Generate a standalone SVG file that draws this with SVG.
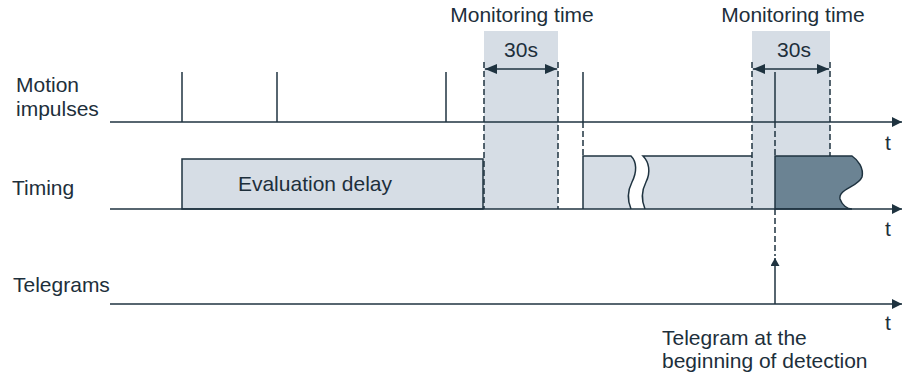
<svg xmlns="http://www.w3.org/2000/svg" width="902" height="382" viewBox="0 0 902 382">
<style>
  text { font-family: "Liberation Sans", Arial, sans-serif; font-size: 21px; fill: #1d2f3b; }
  .ln { stroke: #1f3340; stroke-width: 1.5; fill: none; }
  .dash { stroke: #1f3340; stroke-width: 1.5; fill: none; stroke-dasharray: 6 3; }
  .light { fill: #d6dde5; }
  .box { fill: #d6dde5; stroke: #1f3340; stroke-width: 1.5; }
  .dark { fill: #6b8393; stroke: #1f3340; stroke-width: 1.5; }
  .head { fill: #1f3340; }
</style>
<defs>
  <marker id="ah" viewBox="0 0 12 10" refX="12" refY="5" markerWidth="12" markerHeight="10" markerUnits="userSpaceOnUse" orient="auto-start-reverse">
    <path d="M0,0 L12,5 L0,10 Z" class="head"/>
  </marker>
  <marker id="ax" viewBox="0 0 10 10" refX="10" refY="5" markerWidth="10" markerHeight="10" markerUnits="userSpaceOnUse" orient="auto">
    <path d="M0,0 L10,5 L0,10 Z" class="head"/>
  </marker>
  <marker id="up" viewBox="0 0 8 9" refX="8" refY="4.5" markerWidth="8" markerHeight="9" markerUnits="userSpaceOnUse" orient="auto">
    <path d="M0,0 L8,4.5 L0,9 Z" class="head"/>
  </marker>
</defs>

<g id="labels">
  <text x="16" y="92">Motion</text>
  <text x="16" y="116">impulses</text>
  <text x="12" y="195">Timing</text>
  <text x="13" y="292">Telegrams</text>
  <text x="885" y="150">t</text>
  <text x="885" y="236">t</text>
  <text x="885" y="330">t</text>
</g>

<g id="monitoring1">
  <rect x="484" y="31" width="74" height="178" class="light"/>
  <text x="522" y="22" text-anchor="middle">Monitoring time</text>
  <text x="521" y="57" text-anchor="middle">30s</text>
</g>

<g id="monitoring2">
  <rect x="752" y="31" width="78" height="178" class="light"/>
  <text x="793" y="22" text-anchor="middle">Monitoring time</text>
  <text x="794" y="57" text-anchor="middle">30s</text>
</g>

<g id="evaluation-delay">
  <rect x="182" y="159" width="301" height="50" class="box"/>
  <text x="315" y="191" text-anchor="middle">Evaluation delay</text>
</g>

<g id="timing-broken">
  <path d="M583,209 L583,156 L631,156 C637,162 637,172 632,182 C627,192 628,202 631,209 Z" class="light"/>
  <path d="M583,209 L583,156 L631,156 C637,162 637,172 632,182 C627,192 628,202 631,209" class="ln"/>
  <path d="M643,156 L752,156 L752,209 L645,209 C642,202 641,192 646,182 C651,172 649,162 643,156 Z" class="light"/>
  <path d="M752,156 L643,156 C649,162 651,172 646,182 C641,192 642,202 645,209" class="ln"/>
</g>

<g id="detection">
  <path d="M775,156 L852,156 C858,160 864,168 862,177 C858,187 838,189 840,199 C842,205 847,209 852,209 L775,209 Z" class="dark"/>
</g>

<g id="connectors">
  <line x1="110" y1="122" x2="902" y2="122" class="ln" marker-end="url(#ax)"/>
  <line x1="110" y1="209" x2="902" y2="209" class="ln" marker-end="url(#ax)"/>
  <line x1="110" y1="304" x2="902" y2="304" class="ln" marker-end="url(#ax)"/>
  <line x1="182" y1="72" x2="182" y2="122" class="ln"/>
  <line x1="277" y1="72" x2="277" y2="122" class="ln"/>
  <line x1="446" y1="72" x2="446" y2="122" class="ln"/>
  <line x1="583" y1="72" x2="583" y2="122" class="ln"/>
  <line x1="583" y1="122" x2="583" y2="156" class="dash"/>
  <line x1="775" y1="72" x2="775" y2="122" class="ln"/>
  <line x1="775" y1="122" x2="775" y2="156" class="dash"/>
  <line x1="775" y1="209" x2="775" y2="256" class="dash"/>
  <line x1="775" y1="304" x2="775" y2="258" class="ln" marker-end="url(#up)"/>
  <line x1="484" y1="62" x2="484" y2="209" class="dash"/>
  <line x1="558" y1="62" x2="558" y2="209" class="dash"/>
  <line x1="752" y1="62" x2="752" y2="209" class="dash"/>
  <line x1="830" y1="62" x2="830" y2="156" class="dash"/>
  <line x1="485" y1="69" x2="557" y2="69" class="ln" marker-start="url(#ah)" marker-end="url(#ah)"/>
  <line x1="753" y1="69" x2="829" y2="69" class="ln" marker-start="url(#ah)" marker-end="url(#ah)"/>
</g>

<g id="telegram-note">
  <text x="662" y="345">Telegram at the</text>
  <text x="662" y="368">beginning of detection</text>
</g>
</svg>
